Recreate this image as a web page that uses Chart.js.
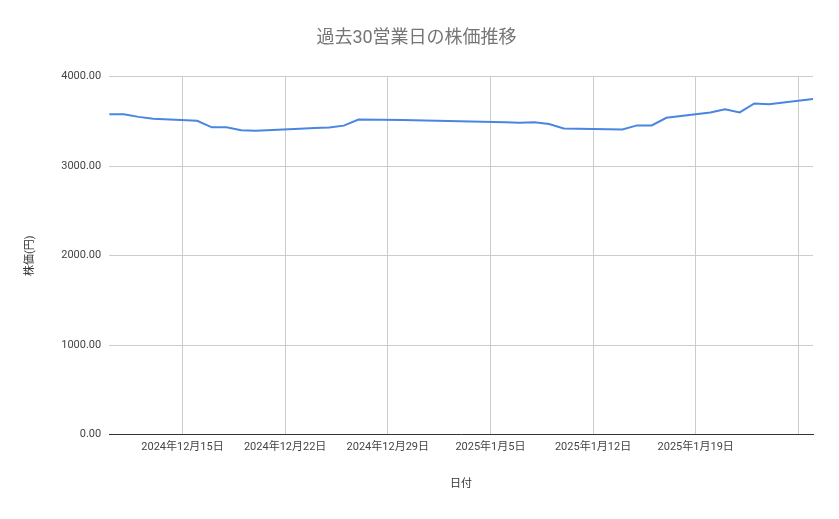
<!DOCTYPE html>
<html><head><meta charset="utf-8">
<script src="https://cdn.jsdelivr.net/npm/chart.js@4"></script>
<style>body{margin:0;background:#fff}#w{width:839px;height:519px}</style>
</head><body><div id="w"><canvas id="c"></canvas></div>
<script>
// day offset from 2024-12-10
const days = [0,1,2,3,6,7,8,9,10,13,14,15,16,17,20,27,28,29,30,31,35,36,37,38,41,42,43,44,45,48];
const prices = [3580,3580,3550,3530,3507,3433,3433,3400,3394,3416,3425,3430,3452,3521,3515,3490,3485,3490,3470,3420,3410,3455,3455,3540,3600,3635,3600,3700,3690,3750];
const tickDays = [5,12,19,26,33,40,47];
const tickLabels = ['2024年12月15日','2024年12月22日','2024年12月29日','2025年1月5日','2025年1月12日','2025年1月19日',''];
const F = "Roboto, 'Noto Sans CJK JP', sans-serif";
new Chart(document.getElementById('c'), {
  type: 'line',
  data: { datasets: [{ data: days.map((d,i)=>({x:d,y:prices[i]})), borderColor:'#4a86e0', borderWidth:2, pointRadius:0, tension:0 }] },
  options: {
    responsive:true, maintainAspectRatio:false, animation:false,
    layout:{padding:{left:20,right:26,top:10,bottom:24}},
    plugins:{legend:{display:false},tooltip:{enabled:false},
      title:{display:true,text:'過去30営業日の株価推移',color:'#757575',font:{family:F,size:18,weight:'normal'},padding:{top:18,bottom:27}}},
    scales:{
      x:{type:'linear',min:0,max:48,
        afterBuildTicks:(s)=>{s.ticks=tickDays.map(v=>({value:v}));},
        ticks:{autoSkip:false,maxRotation:0,color:'#444',font:{family:F,size:11},padding:6,callback:(v)=>tickLabels[tickDays.indexOf(v)]},
        grid:{color:'#cccccc',drawTicks:false},border:{color:'#333'},
        title:{display:true,text:'日付',color:'#333',font:{family:F,size:11},padding:{top:18}}},
      y:{min:0,max:4000,
        ticks:{stepSize:1000,color:'#444',font:{family:F,size:11},padding:8,callback:(v)=>v.toFixed(2)},
        grid:{color:'#cccccc',drawTicks:false},border:{display:false},
        title:{display:true,text:'株価(円)',color:'#333',font:{family:F,size:11},padding:{bottom:16}}}
    }
  }
});
</script></body></html>
